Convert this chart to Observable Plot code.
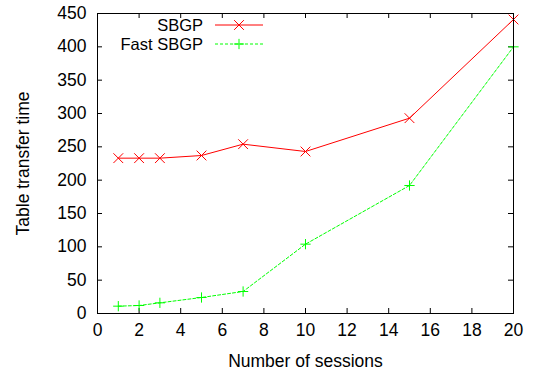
<!DOCTYPE html>
<html>
<head>
<meta charset="utf-8">
<script src="https://cdn.jsdelivr.net/npm/d3@7"></script>
<script src="https://cdn.jsdelivr.net/npm/@observablehq/plot@0.6"></script>
<style>
  html, body { margin: 0; padding: 0; background: #fff; }
</style>
</head>
<body>
<div id="chart"></div>
<script>
const sessions = [1, 2, 3, 5, 7, 10, 15, 20];
const sbgp = [233, 233, 233, 237, 254, 243, 293, 441];
const fastSbgp = [11, 12, 16, 24, 33, 104, 192, 400];
const xTicks = [0, 2, 4, 6, 8, 10, 12, 14, 16, 18, 20];
const yTicks = [0, 50, 100, 150, 200, 250, 300, 350, 400, 450];
const seriesNames = ["SBGP", "Fast SBGP"];
const colors = ["#ff0000", "#00ff00"];

const dataA = sessions.map((s, i) => ({x: s, y: sbgp[i]}));
const dataB = sessions.map((s, i) => ({x: s, y: fastSbgp[i]}));

const W = 536, H = 370;
const mL = 97, mR = 23, mT = 13, mB = 57;
const pw = W - mL - mR, ph = H - mT - mB;
const tick = 5;
const FONT = "'Liberation Sans', Arial, sans-serif";
const FS = 17.5;

const svg = Plot.plot({
  width: W, height: H,
  marginLeft: mL, marginRight: mR, marginTop: mT, marginBottom: mB,
  style: {fontFamily: FONT, fontSize: FS + "px", color: "#000", background: "#fff"},
  x: {domain: [0, 20]},
  y: {domain: [0, 450]},
  marks: [
    Plot.tickX(xTicks, {x: d => d, insetTop: ph - tick, stroke: "#000"}),
    Plot.tickX(xTicks, {x: d => d, insetBottom: ph - tick, stroke: "#000"}),
    Plot.tickY(yTicks, {y: d => d, insetRight: pw - tick, stroke: "#000"}),
    Plot.tickY(yTicks, {y: d => d, insetLeft: pw - tick, stroke: "#000"}),
    Plot.axisX({ticks: xTicks, tickSize: 0, tickPadding: 10, label: "Number of sessions", labelAnchor: "center", labelArrow: "none", labelOffset: 53}),
    Plot.axisY({ticks: yTicks, tickSize: 0, tickPadding: 11, label: "Table transfer time", labelAnchor: "center", labelArrow: "none", labelOffset: 81}),
    Plot.line(dataA, {x: "x", y: "y", stroke: colors[0], strokeWidth: 1}),
    Plot.dot(dataA, {x: "x", y: "y", symbol: "times", r: 4.5, stroke: colors[0], strokeWidth: 1}),
    Plot.line(dataB, {x: "x", y: "y", stroke: colors[1], strokeWidth: 1, strokeDasharray: "3,2"}),
    Plot.dot(dataB, {x: "x", y: "y", symbol: "plus", r: 3.4, stroke: colors[1], strokeWidth: 1}),
    Plot.frame({stroke: "#000"})
  ]
});

// legend (gnuplot style, top-left inside frame)
const g = d3.select(svg).append("g").attr("font-family", FONT).attr("font-size", 16.5);
const legendRows = [
  {name: seriesNames[0], color: colors[0], sym: d3.symbolTimes, size: Math.PI * 4.5 * 4.5, dash: null, y: 25},
  {name: seriesNames[1], color: colors[1], sym: d3.symbolPlus, size: Math.PI * 3.4 * 3.4, dash: "3,2", y: 44}
];
legendRows.forEach(r => {
  g.append("text").attr("x", 203).attr("y", r.y).attr("dy", "0.35em").attr("text-anchor", "end").attr("fill", "#000").text(r.name);
  g.append("line").attr("x1", 215).attr("x2", 263).attr("y1", r.y).attr("y2", r.y)
    .attr("stroke", r.color).attr("stroke-width", 1).attr("stroke-dasharray", r.dash);
  g.append("path").attr("d", d3.symbol(r.sym, r.size)()).attr("transform", `translate(239,${r.y})`)
    .attr("fill", "none").attr("stroke", r.color).attr("stroke-width", 1);
});

document.getElementById("chart").appendChild(svg);
</script>
</body>
</html>
